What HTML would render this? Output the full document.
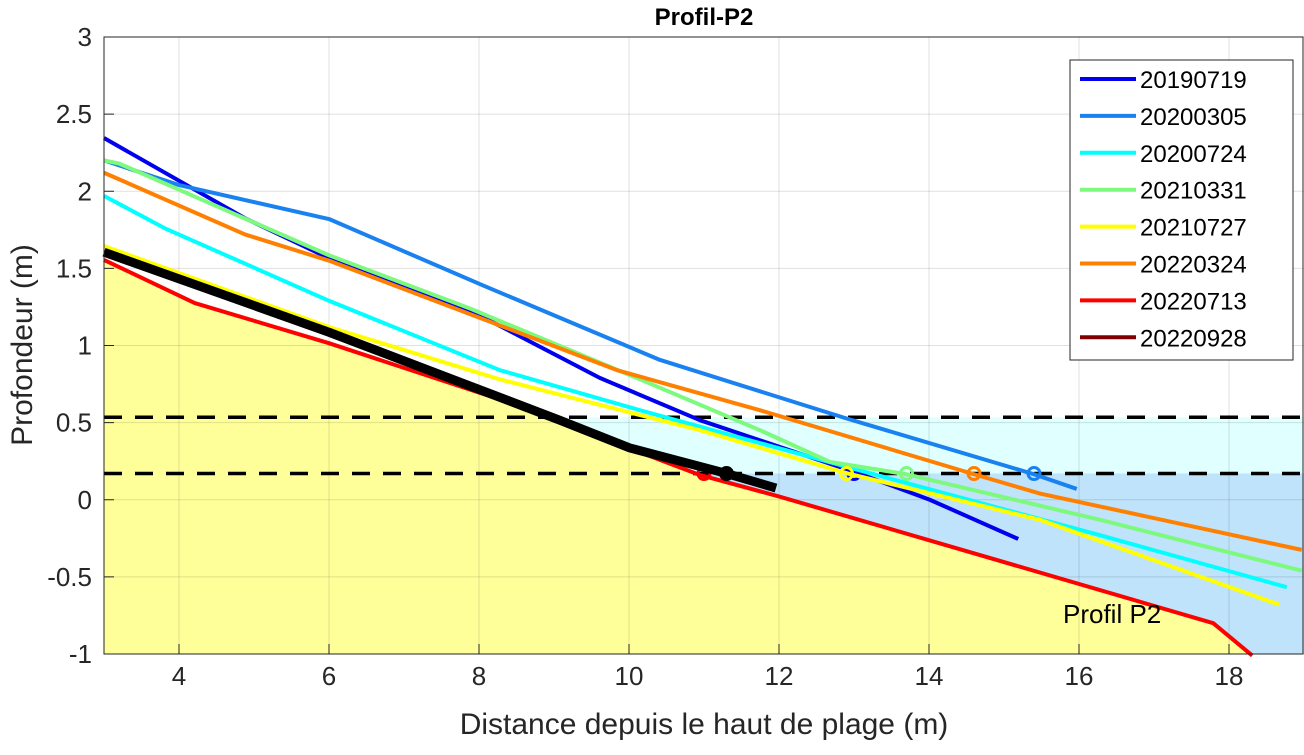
<!DOCTYPE html>
<html><head><meta charset="utf-8"><style>
body{margin:0;background:#fff;font-family:"Liberation Sans",sans-serif}
svg text{font-family:"Liberation Sans",sans-serif}
</style></head><body>
<svg id="c" width="1304" height="750" xmlns="http://www.w3.org/2000/svg"></svg>
<script>
const xTicks=[4,6,8,10,12,14,16,18];
const yTicks=[-1,-0.5,0,0.5,1,1.5,2,2.5,3];
const yTickLabels=["-1","-0.5","0","0.5","1","1.5","2","2.5","3"];
const levels=[0.535,0.17];
const names=["20190719","20200305","20200724","20210331","20210727","20220324","20220713","20220928"];
const colors=["#0000ee","#1a82f0","#00ffff","#7dfa7d","#ffff00","#ff8000","#ff0000","#800000"];
const s1x=[3,4.88,6,7.95,9.61,10.95,13.01,14.01,15.19];
const s1y=[2.345,1.825,1.566,1.21,0.79,0.515,0.18,0,-0.254];
const s2x=[3,4,6,8.05,10.41,12.88,15.39,15.97];
const s2y=[2.2,2.04,1.82,1.39,0.907,0.53,0.167,0.07];
const s3x=[3,3.81,6,8.28,10.15,13.08,16.28,18.77];
const s3y=[1.97,1.76,1.29,0.84,0.58,0.19,-0.23,-0.567];
const s4x=[3,3.2,6,7.88,10.15,11.75,12.68,13.68,16.28,18.97];
const s4y=[2.2,2.18,1.585,1.24,0.78,0.45,0.245,0.167,-0.13,-0.46];
const s5x=[3,6,8.28,10.95,12.92,15.48,18.67];
const s5y=[1.645,1.12,0.78,0.45,0.17,-0.13,-0.68];
const s6x=[3,4.88,6,8.28,9.84,11.75,14.59,15.48,18.97];
const s6y=[2.12,1.72,1.55,1.13,0.84,0.58,0.167,0.04,-0.325];
const s7x=[3,4.21,6,8.28,10.95,12.01,17.79,18.31];
const s7y=[1.555,1.275,1.015,0.65,0.16,0.02,-0.8,-1.01];
const s8x=[3,6,9.08,10.01,11.28,11.96];
const s8y=[1.605,1.086,0.515,0.336,0.173,0.076];
const markX=[13.0,15.4,null,13.7,12.9,14.6,11.0,11.3];
const SX=[s1x,s2x,s3x,s4x,s5x,s6x,s7x,s8x], SY=[s1y,s2y,s3y,s4y,s5y,s6y,s7y,s8y];
const X0=3,X1=19,Y0=-1,Y1=3,L=104,R=1304,T=37,B=654;
const sx=v=>L+(v-X0)/(X1-X0)*(R-L), sy=v=>B-(v-Y0)/(Y1-Y0)*(B-T);
const svg=document.getElementById('c');const NS="http://www.w3.org/2000/svg";
function mk(t,a,p){const e=document.createElementNS(NS,t);for(const k in a)e.setAttribute(k,a[k]);(p||svg).appendChild(e);return e;}
function redXAt(y){for(let i=0;i<s7x.length-1;i++){const a=s7y[i],b=s7y[i+1];if((a-y)*(b-y)<=0){return s7x[i]+(y-a)/(b-a)*(s7x[i+1]-s7x[i]);}}return X1;}
function redYAt(x){for(let i=0;i<s7x.length-1;i++){if(x>=s7x[i]&&x<=s7x[i+1])return s7y[i]+(x-s7x[i])/(s7x[i+1]-s7x[i])*(s7y[i+1]-s7y[i]);}return Y0;}
mk('rect',{x:L,y:T,width:R-L,height:B-T,fill:'#fff'});
let pts=s7x.map((x,i)=>sx(x)+','+sy(s7y[i]));
pts.push(sx(s7x[s7x.length-1])+','+B,L+','+B);
let f=mk('polygon',{points:pts.join(' '),fill:'#ffff99'});


function band(yHi,yLo,col,nm){const xa=redXAt(yHi),xb=redXAt(yLo);let p=[[xa,yHi],[X1,yHi],[X1,Math.max(yLo,redYAt(X1))]];
 const mids=s7x.map((x,i)=>[x,s7y[i]]).filter(q=>q[1]<yHi&&q[1]>yLo).reverse();
 if(yLo>Y0){p.push([xb,yLo]);}else{p.push([redXAt(Y0),Y0]);}
 p=p.concat(mids.filter(q=>q[0]<(yLo>Y0?xb:99)));
 const e=mk('polygon',{points:p.map(q=>sx(q[0])+','+sy(q[1])).join(' '),fill:col});
 
 }
band(levels[0],levels[1],'#e0ffff','upper-band');
band(levels[1],Y0,'#bfe3fa','lower-band');
xTicks.forEach(v=>{mk('line',{x1:sx(v),x2:sx(v),y1:T,y2:B,stroke:'#000','stroke-opacity':0.12,'stroke-width':1});});
yTicks.forEach(v=>{mk('line',{x1:L,x2:R,y1:sy(v),y2:sy(v),stroke:'#000','stroke-opacity':0.12,'stroke-width':1});});
levels.forEach((v,i)=>{const e=mk('line',{x1:L,x2:R,y1:sy(v),y2:sy(v),stroke:'#000','stroke-width':3.5,'stroke-dasharray':'18,13'});
 
 });
SX.forEach((xs,k)=>{const col=k==7?'#000':colors[k];
 const e=mk('polyline',{points:xs.map((x,i)=>sx(x)+','+sy(SY[k][i])).join(' '),fill:'none',stroke:col,'stroke-width':k==7?9:4,'stroke-linejoin':'round'});
 
 
 if(markX[k]!=null){const m=mk('circle',{cx:sx(markX[k]),cy:sy(levels[1]),r:6,fill:k==7?'#000':'none',stroke:col,'stroke-width':3});
 
 }});
mk('rect',{x:L,y:T,width:R-L-1,height:B-T,fill:'none',stroke:'#262626','stroke-width':1});
xTicks.forEach(v=>{mk('line',{x1:sx(v),x2:sx(v),y1:B,y2:B-10,stroke:'#262626'});
 const t=mk('text',{x:sx(v),y:B+31,'text-anchor':'middle','font-size':26,fill:'#262626'});t.textContent=v;
 
 });
yTicks.forEach((v,i)=>{mk('line',{x1:L,x2:L+10,y1:sy(v),y2:sy(v),stroke:'#262626'});
 const t=mk('text',{x:L-12,y:sy(v)+9,'text-anchor':'end','font-size':26,fill:'#262626'});t.textContent=yTickLabels[i];
 
 });
let t=mk('text',{x:704,y:25,'text-anchor':'middle','font-size':24,'font-weight':'bold',fill:'#000'});t.textContent='Profil-P2';


t=mk('text',{x:704,y:734,'text-anchor':'middle','font-size':30,fill:'#262626'});t.textContent='Distance depuis le haut de plage (m)';


t=mk('text',{x:0,y:0,'text-anchor':'middle','font-size':30,fill:'#262626',transform:'translate(32,345) rotate(-90)'});t.textContent='Profondeur (m)';


t=mk('text',{x:1063,y:623,'font-size':26,fill:'#000'});t.textContent='Profil P2';


const lg=mk('g',{});


mk('rect',{x:1070,y:60,width:223,height:300,fill:'#fff',stroke:'#262626','stroke-width':1},lg);
names.forEach((n,k)=>{const y=79+k*36.9;const g=mk('g',{},lg);
 
 
 mk('line',{x1:1080,x2:1136,y1:y,y2:y,stroke:colors[k],'stroke-width':4},g);
 const tt=mk('text',{x:1140,y:y+9,'font-size':24,fill:'#000'},g);tt.textContent=n;});
</script>
</body></html>
